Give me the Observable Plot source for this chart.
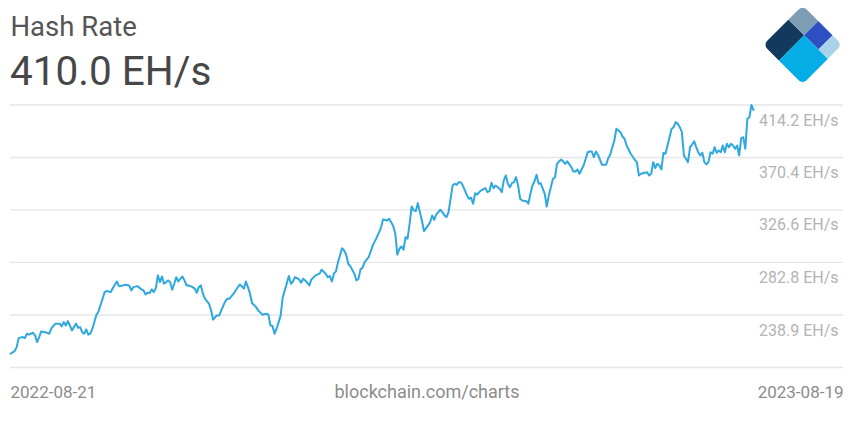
<!DOCTYPE html>
<html>
<head>
<meta charset="utf-8">
<script src="https://cdn.jsdelivr.net/npm/d3@7"></script>
<script src="https://cdn.jsdelivr.net/npm/@observablehq/plot@0.6"></script>
<style>
  html, body { margin: 0; padding: 0; background: #fff; }
  #wrap { width: 850px; height: 423px; overflow: hidden; font-family: Roboto, sans-serif; }
  #wrap svg { display: block; }
</style>
</head>
<body>
<div id="wrap">
  <svg id="header" width="850" height="96" xmlns="http://www.w3.org/2000/svg">
    <text x="10.5" y="36" font-family="Roboto" font-size="27.5" fill="#555">Hash Rate</text>
    <text x="10" y="85" font-family="Roboto" font-size="40.5" fill="#474747">410.0 EH/s</text>
    <defs>
      <clipPath id="logoClip"><rect x="0" y="0" width="56" height="56" rx="6" ry="6"></rect></clipPath>
    </defs>
    <g transform="translate(763,44.8) rotate(-45)" clip-path="url(#logoClip)">
      <rect x="0" y="0" width="35.8" height="22.4" fill="#14395f"></rect>
      <rect x="35.8" y="0" width="20.2" height="22.4" fill="#7c9db3"></rect>
      <rect x="35.8" y="22.4" width="20.2" height="20.2" fill="#2e4fc2"></rect>
      <rect x="35.8" y="42.6" width="20.2" height="13.4" fill="#a9d3e8"></rect>
      <rect x="0" y="22.4" width="35.8" height="33.6" fill="#05ade6"></rect>
    </g>
  </svg>
  <div id="chart"></div>
</div>
<script>
// Days since 2022-08-21 and hash rate (EH/s)
const startDate = "2022-08-21";
const endDate = "2023-08-19";
const dayIndex = [0,2,3,4,6,7,8,9,11,12,13,14,15,17,19,20,22,24,25,26,27,28,29,30,31,32,33,34,35,36,37,38,39,40,42,43,45,46,47,49,50,52,53,55,56,58,59,60,62,64,65,66,67,68,69,70,71,72,73,74,75,77,78,79,80,81,82,83,84,85,86,87,89,90,91,92,93,94,95,97,98,99,100,101,102,103,104,105,106,107,109,110,112,113,114,115,116,117,118,120,121,123,125,126,127,128,129,130,131,132,133,134,136,137,138,139,141,142,143,144,146,147,149,151,152,154,155,156,157,158,159,160,162,163,164,165,166,168,169,170,171,172,173,175,176,177,179,181,182,184,185,186,187,188,189,190,191,192,193,194,195,196,197,198,199,200,201,202,204,205,206,207,208,209,210,211,212,213,214,216,217,218,219,220,221,223,224,225,226,227,228,229,230,232,233,234,235,236,237,239,240,241,242,243,244,245,246,247,248,249,250,252,253,254,255,256,257,258,259,261,262,263,264,265,266,267,268,269,270,271,272,274,275,276,277,278,279,280,281,282,283,284,285,286,287,289,291,292,293,295,296,298,299,300,301,303,305,306,307,308,309,311,312,313,314,315,316,317,318,319,320,322,323,324,325,326,327,328,329,330,331,332,333,334,335,336,337,338,339,340,341,342,343,344,345,346,347,348,349,350,351,352,353,354,355,356,357,358,359,360,361,362,363];
const hashRate = [206.6,208.8,212.1,219.6,220.5,219.6,223.3,222.5,224.1,221.9,216.3,220.5,225.2,224.6,223.3,228.0,231.7,231.7,229.4,233.0,230.2,233.8,230.2,226.1,228.8,231.7,228.3,228.8,224.6,223.3,226.9,222.5,223.3,227.5,239.2,241.9,252.5,258.0,258.9,258.0,261.4,266.9,263.0,263.6,264.2,263.6,259.4,262.2,263.0,260.3,259.4,256.1,257.5,257.2,260.3,258.0,261.4,272.0,266.4,271.1,265.0,267.8,266.4,260.0,265.0,270.5,266.9,269.2,271.1,267.8,263.6,263.6,262.2,260.9,257.5,262.2,263.6,256.7,252.5,248.3,242.8,235.0,237.2,238.6,238.6,242.8,246.9,250.5,252.5,252.5,256.7,259.4,264.4,263.0,260.9,266.9,262.2,256.7,248.9,245.5,242.8,239.2,240.0,239.2,230.2,229.7,223.3,227.5,233.0,238.6,253.8,259.4,271.4,265.0,266.9,270.5,268.6,265.9,269.2,267.8,263.6,268.6,272.0,273.4,276.7,273.4,270.5,271.4,266.9,273.4,275.3,283.0,294.7,292.8,289.2,281.7,279.7,273.4,267.8,269.2,277.0,278.4,283.0,287.2,292.0,297.0,303.9,311.7,318.7,317.8,319.3,316.4,313.1,306.7,289.2,294.2,296.1,293.4,303.9,302.6,315.1,329.5,326.2,325.6,332.3,324.8,317.8,308.9,313.7,316.4,322.0,318.4,322.8,324.8,326.8,324.8,322.0,320.6,324.8,347.0,348.5,347.6,349.8,349.8,347.0,338.7,335.9,336.8,331.8,340.6,339.5,341.5,342.9,344.8,341.5,342.3,349.3,344.8,347.0,344.3,341.5,351.2,355.4,348.5,345.6,349.0,349.8,354.0,347.0,335.9,334.5,333.9,331.8,340.1,347.0,350.6,356.0,348.5,349.0,340.1,329.5,338.7,345.6,352.6,353.7,365.1,367.1,368.7,367.1,365.1,367.1,362.3,358.7,358.7,360.4,356.8,360.4,363.7,369.3,374.8,375.4,375.4,370.7,375.4,372.7,364.3,364.3,369.8,372.7,384.6,394.3,391.5,387.9,386.0,380.4,373.5,368.5,366.5,355.4,356.8,357.3,358.1,355.4,356.8,366.5,361.5,365.1,363.7,360.4,374.3,373.5,387.3,394.3,395.7,399.9,398.5,395.7,391.5,372.1,369.3,366.5,379.0,381.2,384.0,379.0,374.8,372.1,374.3,366.5,364.6,366.5,374.8,373.5,379.0,374.3,376.2,374.8,380.4,374.8,381.8,379.0,381.8,380.4,377.7,380.4,372.1,386.5,387.3,377.7,402.7,404.0,414.2,410.0];

// Y-axis gridlines (bottom one unlabeled) and tick labels
const gridValues = [195.1, 238.9, 282.8, 326.6, 370.4, 414.2];
const tickValues = [238.9, 282.8, 326.6, 370.4, 414.2];
const tickLabels = ["238.9 EH/s", "282.8 EH/s", "326.6 EH/s", "370.4 EH/s", "414.2 EH/s"];
const sourceLabel = "blockchain.com/charts";

const start = new Date(startDate + "T00:00:00Z");
const end = new Date(endDate + "T00:00:00Z");
const data = dayIndex.map((d, i) => ({ date: new Date(start.getTime() + d * 864e5), value: hashRate[i] }));

const chart = Plot.plot({
  width: 850,
  height: 327,
  marginLeft: 10,
  marginRight: 7,
  marginTop: 8.5,
  marginBottom: 56,
  style: { fontFamily: "Roboto", background: "#fff" },
  x: { type: "utc", domain: [start, end], range: [10, 753], axis: null },
  y: { domain: [gridValues[0], gridValues[gridValues.length - 1]], axis: null },
  marks: [
    Plot.ruleY(gridValues, { stroke: "#e6e6e6", strokeWidth: 1.3 }),
    Plot.line(data, { x: "date", y: "value", stroke: "#2ea8df", strokeWidth: 2, strokeLinejoin: "round" }),
    Plot.text(tickValues, { y: d => d, text: (d, i) => tickLabels[i], frameAnchor: "right", textAnchor: "end", dx: -5, dy: 15.4, fill: "#b3b3b3", fontSize: 16 }),
    Plot.text([startDate], { text: d => d, frameAnchor: "bottom-left", textAnchor: "start", dy: 30, fill: "#8c8c8c", fontSize: 17 }),
    Plot.text([endDate], { text: d => d, frameAnchor: "bottom-right", textAnchor: "end", dy: 30, fill: "#8c8c8c", fontSize: 17 }),
    Plot.text([sourceLabel], { text: d => d, frameAnchor: "bottom", textAnchor: "middle", dy: 30, fill: "#8c8c8c", fontSize: 18 })
  ]
});
document.getElementById("chart").appendChild(chart);
</script>
</body>
</html>
